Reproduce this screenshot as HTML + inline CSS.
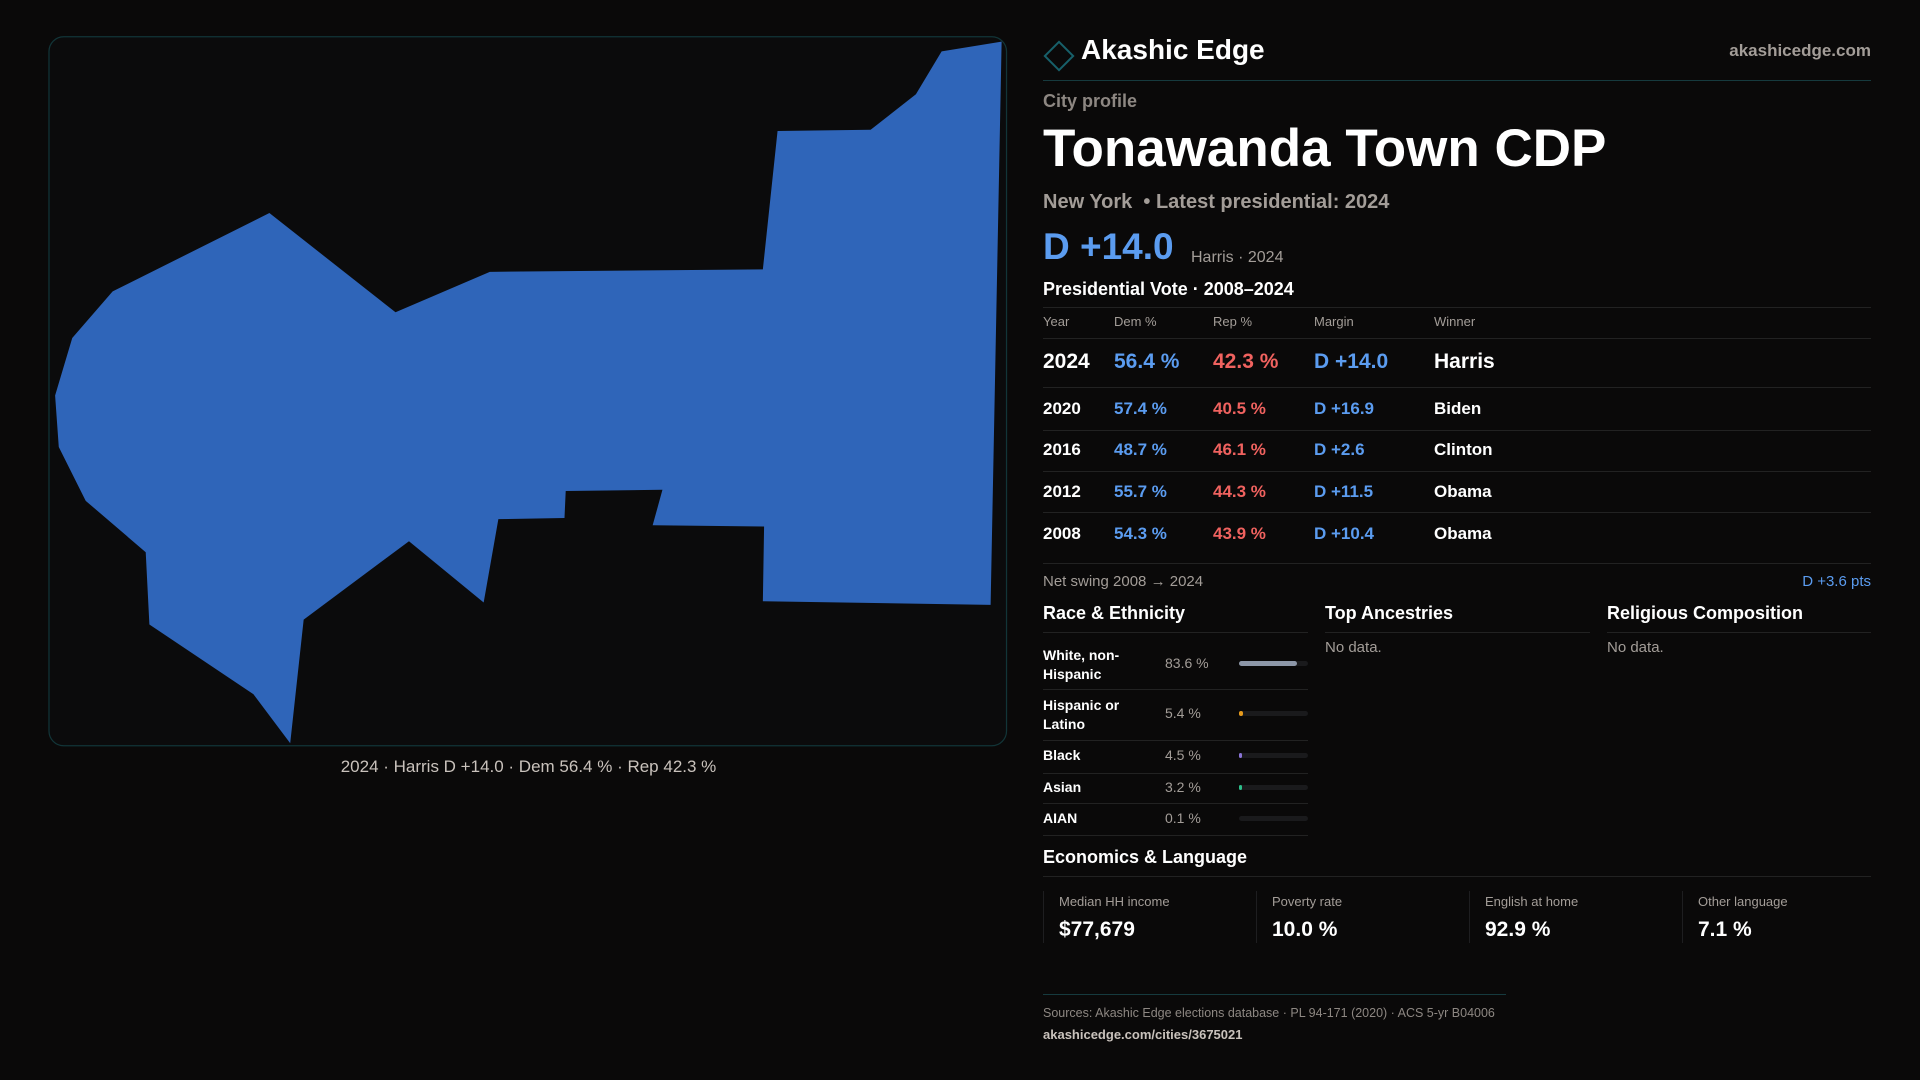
<!DOCTYPE html>
<html><head><meta charset="utf-8">
<style>
html,body{margin:0;padding:0;background:#0a0909;}
body{width:1920px;height:1080px;position:relative;overflow:hidden;font-family:"Liberation Sans",sans-serif;color:#fff;}
.t{position:absolute;white-space:nowrap;line-height:1;}
.g{color:#a39d98;}
.b{color:#5b9cf0;}
.r{color:#f0625f;}
.hl{position:absolute;height:1px;background:#222;}
.bold{font-weight:bold;}
</style></head><body>
<svg style="position:absolute;left:0;top:0" width="1920" height="1080" viewBox="0 0 1568 882">
 <rect x="40" y="30" width="782" height="579" rx="12" fill="#0b0b0c" stroke="#123538" stroke-width="1"/>
 <polygon fill="#2f65b9" points="220,174 323,255 400,222 623,220 635,107 711,106 748,77 769,42 818,34 809,494 623,491 624,430 533,429 541,400 462,401 461,423 407,424 395,492 334,442 248,506 237,607 207,567 122,510 119,451 70,409 48,365 45,323 59,276 92,238"/>
</svg>
<div class="t g" style="left:0;width:1057px;text-align:center;top:758px;font-size:17px;color:#c9c2bc">2024 · Harris D +14.0 · Dem 56.4 % · Rep 42.3 %</div>

<div style="position:absolute;left:1048px;top:45px;width:18px;height:18px;border:2px solid #17606a;transform:rotate(45deg)"></div>
<div class="t bold" style="left:1081px;top:36px;font-size:28px">Akashic Edge</div>
<div class="t g bold" style="right:49px;top:42px;font-size:17px">akashicedge.com</div>
<div class="hl" style="left:1043px;width:828px;top:80px;background:#163a3e"></div>
<div class="t g bold" style="left:1043px;top:92px;font-size:18px;color:#8d8782">City profile</div>
<div class="t bold" style="left:1043px;top:122px;font-size:53px">Tonawanda Town CDP</div>
<div class="t g bold" style="left:1043px;top:192px;font-size:20px">New York &nbsp;• Latest presidential: 2024</div>
<div class="t b bold" style="left:1043px;top:228px;font-size:37px">D +14.0</div>
<div class="t g" style="left:1191px;top:250px;font-size:16px">Harris · 2024</div>
<div class="t bold" style="left:1043px;top:280px;font-size:18px">Presidential Vote · 2008–2024</div>
<div class="hl" style="left:1043px;width:828px;top:307px"></div>
<div id="tbl"></div>
<div class="hl" style="left:1043px;width:828px;top:563px"></div>
<div class="t g" style="left:1043px;top:574px;font-size:15px">Net swing 2008 → 2024</div>
<div class="t b" style="right:49px;top:574px;font-size:15px">D +3.6 pts</div>

<div class="t bold" style="left:1043px;top:604px;font-size:18px">Race &amp; Ethnicity</div>
<div class="t bold" style="left:1325px;top:604px;font-size:18px">Top Ancestries</div>
<div class="t bold" style="left:1607px;top:604px;font-size:18px">Religious Composition</div>
<div class="hl" style="left:1043px;width:265px;top:632px"></div>
<div class="hl" style="left:1325px;width:265px;top:632px"></div>
<div class="hl" style="left:1607px;width:264px;top:632px"></div>
<div class="t g" style="left:1325px;top:640px;font-size:15px">No data.</div>
<div class="t g" style="left:1607px;top:640px;font-size:15px">No data.</div>
<div id="race"></div>

<div class="t bold" style="left:1043px;top:848px;font-size:18px">Economics &amp; Language</div>
<div class="hl" style="left:1043px;width:828px;top:876px"></div>
<div id="stats"></div>

<div class="hl" style="left:1043px;width:463px;top:994px;background:#163a3e"></div>
<div class="t g" style="left:1043px;top:1007px;font-size:12.5px;color:#8d8782">Sources: Akashic Edge elections database · PL 94-171 (2020) · ACS 5-yr B04006</div>
<div class="t g bold" style="left:1043px;top:1028px;font-size:13px;color:#c9c2bc">akashicedge.com/cities/3675021</div>

<script>
const years=["2024","2020","2016","2012","2008"];
const demPct=[56.4,57.4,48.7,55.7,54.3];
const repPct=[42.3,40.5,46.1,44.3,43.9];
const margins=["D +14.0","D +16.9","D +2.6","D +11.5","D +10.4"];
const winners=["Harris","Biden","Clinton","Obama","Obama"];
const raceLabels=["White, non-<br>Hispanic","Hispanic or<br>Latino","Black","Asian","AIAN"];
const racePct=[83.6,5.4,4.5,3.2,0.1];
const raceColors=["#8d97a8","#e59a1c","#8a74d6","#2dbf8a","#666"];
const statLabels=["Median HH income","Poverty rate","English at home","Other language"];
const statValues=["$77,679","10.0 %","92.9 %","7.1 %"];

function mk(parent,cls,css,html){const d=document.createElement('div');d.className=cls;d.style.cssText=css;d.innerHTML=html;parent.appendChild(d);return d;}
const tbl=document.getElementById('tbl');
const cols=[1043,1114,1213,1314,1434];
["Year","Dem %","Rep %","Margin","Winner"].forEach((h,i)=>{
 const e=mk(tbl,'t g',`left:${cols[i]}px;top:315px;font-size:13px`,h);
 
 
});
const hl1=mk(tbl,'hl','left:1043px;width:828px;top:338px','');


const rowY=[361,408,449,491,533];
const lineY=[387,430,471,512,555];
years.forEach((y,i)=>{
 const fs=i===0?21:17;
 const top=rowY[i]-fs/2;
 const cells=[[y,'t bold'],[demPct[i].toFixed(1)+' %','t b bold'],[repPct[i].toFixed(1)+' %','t r bold'],[margins[i],'t b bold'],[winners[i],'t bold']];
 cells.forEach((c,j)=>{
  const e=mk(tbl,c[1],`left:${cols[j]}px;top:${top}px;font-size:${fs}px`,c[0]);
  
  
 });
 if(i<4){const l=mk(tbl,'hl',`left:1043px;width:828px;top:${lineY[i]}px`,'');
  
  }
});
const race=document.getElementById('race');
const rY=[663,713,755,787,818];
const rL=[689,740,773,803,835];
const barX=1239,barW=69;
racePct.forEach((p,i)=>{
 const two=raceLabels[i].includes('<br>');
 const lab=mk(race,'t bold',`left:1043px;top:${rY[i]-(two?17:7)}px;font-size:14px;line-height:${two?19:14}px`,raceLabels[i]);
 
 
 const pv=mk(race,'t g',`left:1165px;top:${rY[i]-7}px;font-size:14px`,p.toFixed(1)+' %');
 
 
 const tr=mk(race,'',`position:absolute;left:${barX}px;top:${rY[i]-2}px;width:${barW}px;height:5px;border-radius:3px;background:#1a1a1c`,'');
 
 
 const w=Math.max(p>0.5?3:0,barW*p/100);
 const bar=mk(race,'',`position:absolute;left:${barX}px;top:${rY[i]-2}px;width:${w}px;height:5px;border-radius:3px;background:${raceColors[i]}`,'');
 
 
 const l=mk(race,'hl',`left:1043px;width:265px;top:${rL[i]}px`,'');
 
 
});
const stats=document.getElementById('stats');
const sx=[1043,1256,1469,1682];
statLabels.forEach((s,i)=>{
 const bd=mk(stats,'',`position:absolute;left:${sx[i]}px;top:891px;width:1px;height:52px;background:#1e1e20`,'');
 
 
 const a=mk(stats,'t g',`left:${sx[i]+16}px;top:895px;font-size:13px`,s);
 
 
 const b=mk(stats,'t bold',`left:${sx[i]+16}px;top:919px;font-size:21px`,statValues[i]);
 
 
});
</script>
</body></html>
